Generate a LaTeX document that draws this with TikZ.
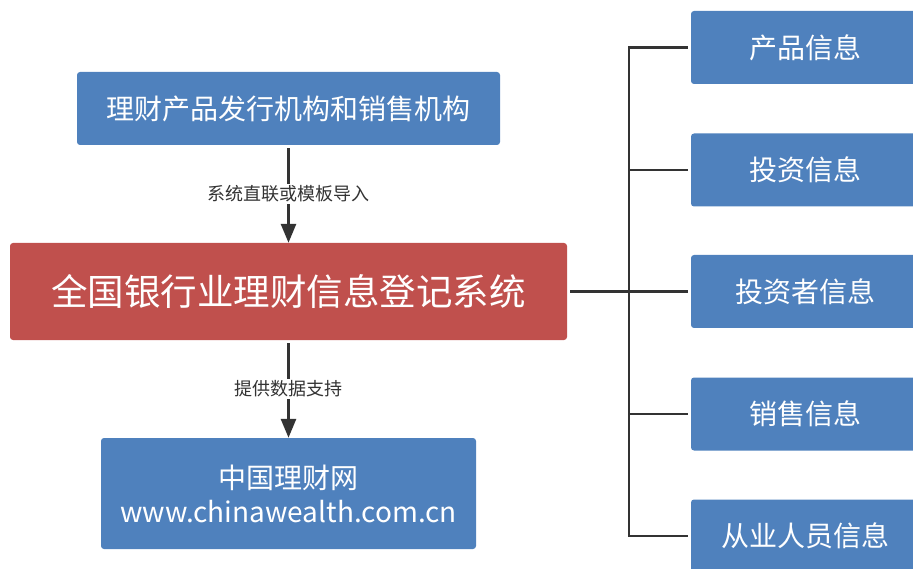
\documentclass[tikz,border=0pt]{standalone}
\usepackage{fontspec}
\setmainfont{Noto Sans CJK SC}
\usetikzlibrary{positioning,arrows.meta}
\definecolor{boxblue}{HTML}{4F81BD}
\definecolor{boxred}{HTML}{C0504D}
\definecolor{linegray}{HTML}{333333}
\tikzset{
    block/.style = {
        fill=boxblue,
        text=white,
        shape=rectangle,
        rounded corners=3pt,
        inner sep=0pt,
        align=center,
        font=\fontsize{28}{34}\selectfont
    },
    registry/.style = {
        block,
        fill=boxred,
        font=\fontsize{36.5}{40}\selectfont
    },
    info/.style = {
        block,
        minimum width=228pt,
        minimum height=73pt
    },
    link/.style = {
        draw=linegray,
        line width=2.8pt
    },
    flow/.style = {
        link,
        -{Triangle[length=19pt,width=15pt]}
    },
    tag/.style = {
        fill=white,
        text=linegray,
        inner sep=1.5pt,
        font=\fontsize{18}{20}\selectfont
    }
}

\begin{document}
\begin{tikzpicture}[x=1pt,y=-1pt]
    \clip (0,0) rectangle (913,569);

    \node[block, minimum width=423pt, minimum height=73pt] (issuer) at (288.5,108.5) {理财产品发行机构和销售机构};
    \node[registry, minimum width=557pt, minimum height=97pt] (system) at (288.5,291.5) {全国银行业理财信息登记系统};
    \node[block, minimum width=375pt, minimum height=111pt] (portal) at (288.5,493.5) {中国理财网\\www.chinawealth.com.cn};

    \node[info] (product) at (805,47.5) {产品信息};
    \node[info] (invest) at (805,170) {投资信息};
    \node[info] (investor) at (805,291.5) {投资者信息};
    \node[info] (sales) at (805,414) {销售信息};
    \node[info] (staff) at (805,536) {从业人员信息};

    \coordinate (trunk) at (629,291.5);

    % arrows between the left boxes
    \path[flow, shorten <=3pt] (issuer) -- (system) node[midway, tag] {系统直联或模板导入};
    \path[flow, shorten <=3pt] (system) -- (portal) node[midway, tag] {提供数据支持};

    % tree to the information boxes
    \path[link, shorten <=3pt] (system.east) -- (trunk);
    \path[link, shorten <=3pt, shorten >=3pt] (product.west) -| (trunk |- staff) -- (staff.west);
    \path[link, shorten >=3pt] (trunk |- invest) -- (invest.west);
    \path[link, shorten >=3pt] (trunk) -- (investor.west);
    \path[link, shorten >=3pt] (trunk |- sales) -- (sales.west);
\end{tikzpicture}
\end{document}
